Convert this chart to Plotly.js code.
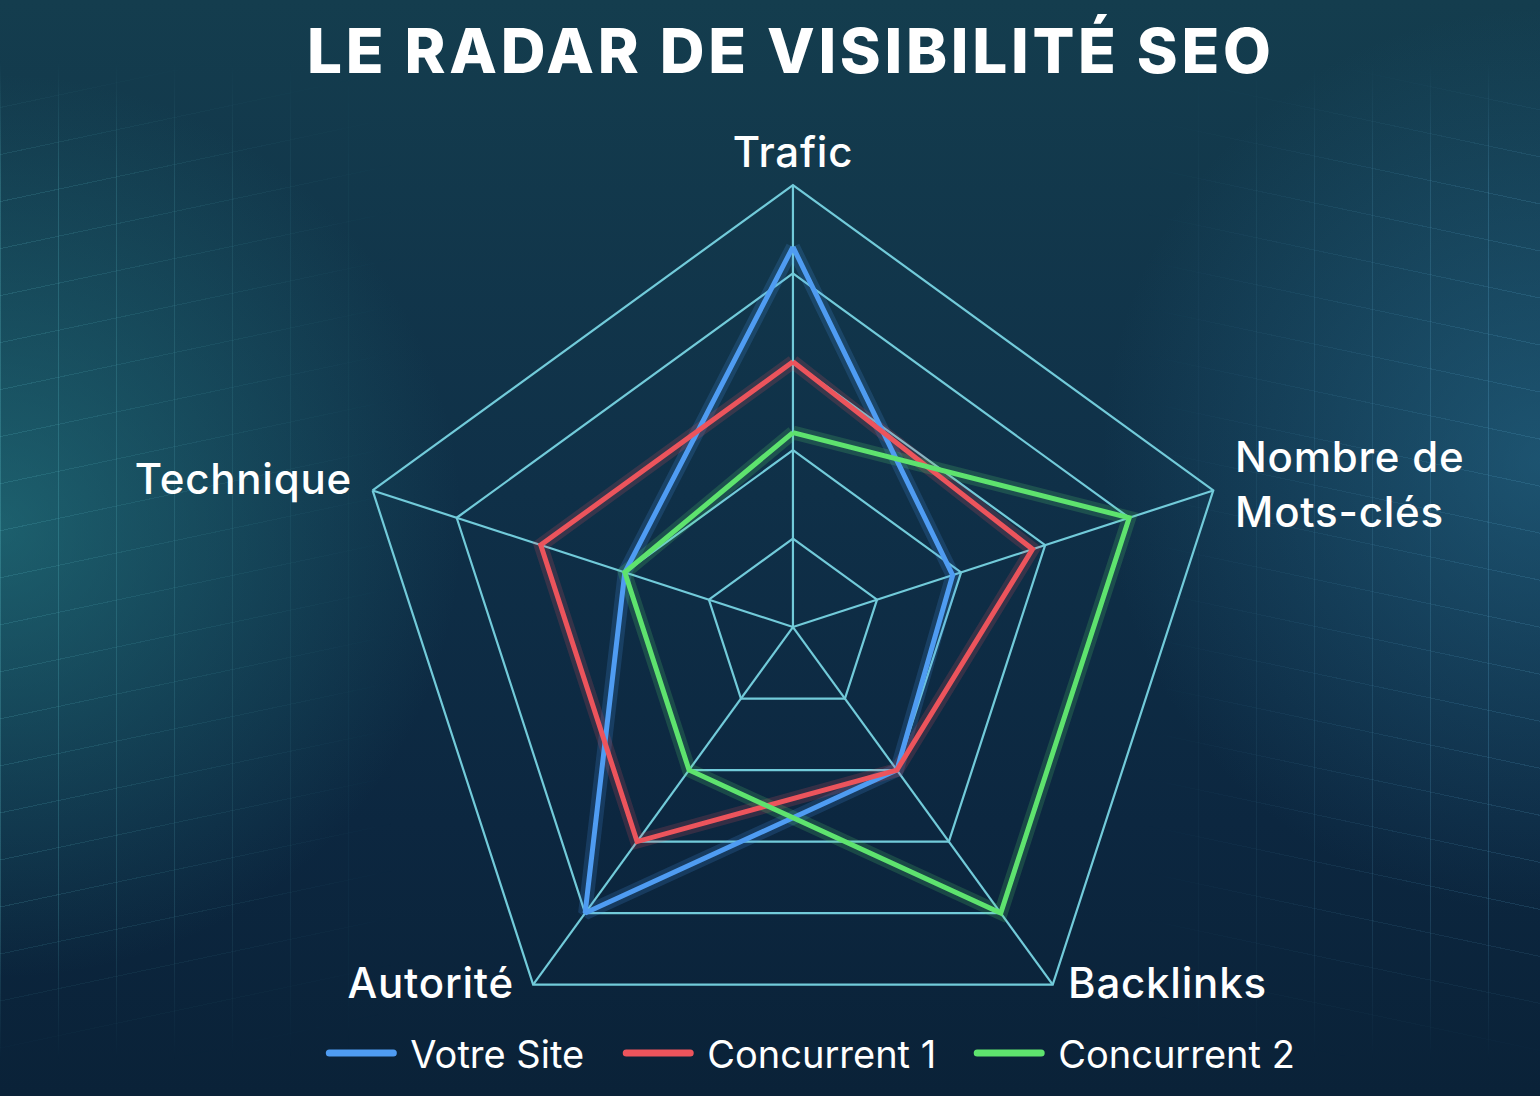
<!DOCTYPE html>
<html>
<head>
<meta charset="utf-8">
<script src="https://cdn.plot.ly/plotly-3.0.1.min.js"></script>
<style>
  html, body { margin: 0; padding: 0; width: 1540px; height: 1096px; overflow: hidden; }
  body {
    background:
      radial-gradient(ellipse 40% 55% at 0% 48%, rgba(40,135,140,0.55) 0%, rgba(20,80,100,0.0) 75%),
      radial-gradient(ellipse 38% 55% at 100% 42%, rgba(45,125,160,0.45) 0%, rgba(20,80,110,0.0) 75%),
      linear-gradient(180deg, #143d4e 0%, #0f3048 45%, #0c2740 75%, #0a2238 100%);
    position: relative;
  }
  .wrap { position: absolute; top: 60px; height: 1000px; width: 400px; pointer-events: none;
    -webkit-mask-image: linear-gradient(180deg, rgba(0,0,0,0) 0%, rgba(0,0,0,1) 12%, rgba(0,0,0,1) 85%, rgba(0,0,0,0) 100%);
    mask-image: linear-gradient(180deg, rgba(0,0,0,0) 0%, rgba(0,0,0,1) 12%, rgba(0,0,0,1) 85%, rgba(0,0,0,0) 100%); }
  .wrap.left { left: 0; }
  .wrap.right { right: 0; }
  .deco { position: absolute; left: 0; top: 0; width: 100%; height: 100%; opacity: 0.6; }
  .left .deco {
    background:
      repeating-linear-gradient(90deg, rgba(120,230,240,0.35) 0 1px, transparent 1px 58px),
      repeating-linear-gradient(168deg, rgba(120,230,240,0.22) 0 1px, transparent 1px 46px);
    -webkit-mask-image: linear-gradient(90deg, rgba(0,0,0,1) 0%, rgba(0,0,0,0.5) 55%, rgba(0,0,0,0) 100%);
    mask-image: linear-gradient(90deg, rgba(0,0,0,1) 0%, rgba(0,0,0,0.5) 55%, rgba(0,0,0,0) 100%);
  }
  .right .deco {
    background:
      repeating-linear-gradient(90deg, rgba(120,210,250,0.35) 0 1px, transparent 1px 58px),
      repeating-linear-gradient(12deg, rgba(120,210,250,0.22) 0 1px, transparent 1px 46px);
    -webkit-mask-image: linear-gradient(270deg, rgba(0,0,0,1) 0%, rgba(0,0,0,0.5) 55%, rgba(0,0,0,0) 100%);
    mask-image: linear-gradient(270deg, rgba(0,0,0,1) 0%, rgba(0,0,0,0.5) 55%, rgba(0,0,0,0) 100%);
  }
  #chart { position: absolute; left: 0; top: 0; width: 1540px; height: 1096px; }
  #chart .gtitle { letter-spacing: 3.7px; }
  #chart .polarlayer text { letter-spacing: 0.8px; }
</style>
</head>
<body>
<div class="wrap left"><div class="deco"></div></div>
<div class="wrap right"><div class="deco"></div></div>
<div id="chart"></div>
<script>
// ---- Data ----
const chartTitle = "LE RADAR DE VISIBILITÉ SEO";
const categories = ["Trafic", "Nombre de<br>Mots-clés", "Backlinks", "Autorité", "Technique"];
const seriesNames = ["Votre Site", "Concurrent 1", "Concurrent 2"];
const votreSite   = [86, 38, 40, 80, 40];
const concurrent1 = [60, 57, 40, 60, 60];
const concurrent2 = [44, 80, 80, 40, 40];
const radialTicks = [20, 40, 60, 80, 100];

// ---- Styles ----
const colors = ["#4f9cf2", "#ec545c", "#5ee36e"];
const gridColor = "#72cbda";
const fontFamily = "Inter, 'Open Sans', sans-serif";
const legendIds = ["legend", "legend2", "legend3"];
const legendX = [0.2106, 0.4034, 0.6313];

const seriesValues = [votreSite, concurrent1, concurrent2];
const closed = arr => arr.concat([arr[0]]);
const theta = closed(categories);

const traces = [];
seriesValues.forEach((vals, i) => {
  traces.push({
    type: "scatterpolar", mode: "lines",
    r: closed(vals), theta: theta,
    line: { color: colors[i], width: 14 },
    opacity: 0.18, showlegend: false, hoverinfo: "skip"
  });
});
seriesValues.forEach((vals, i) => {
  traces.push({
    type: "scatterpolar", mode: "lines",
    name: seriesNames[i],
    legend: legendIds[i],
    r: closed(vals), theta: theta,
    line: { color: colors[i], width: 5 }
  });
});

const layout = {
  width: 1540, height: 1096,
  margin: { l: 0, r: 0, t: 0, b: 0 },
  paper_bgcolor: "rgba(0,0,0,0)",
  plot_bgcolor: "rgba(0,0,0,0)",
  title: {
    text: chartTitle,
    x: 0.5135, xanchor: "center",
    y: 0.953, yanchor: "middle",
    font: { family: fontFamily, size: 62, weight: 800, color: "#ffffff" }
  },
  showlegend: true,
  polar: {
    domain: { x: [0.2279, 0.8019], y: [0.0246, 0.8312] },
    bgcolor: "rgba(0,0,0,0)",
    gridshape: "linear",
    radialaxis: {
      range: [0, 100],
      tickvals: radialTicks,
      showticklabels: false,
      ticks: "",
      showline: false,
      gridcolor: gridColor,
      gridwidth: 2.2
    },
    angularaxis: {
      rotation: 90,
      direction: "clockwise",
      showline: true,
      linecolor: gridColor,
      linewidth: 2.2,
      gridcolor: gridColor,
      gridwidth: 2.2,
      ticks: "",
      tickfont: { family: fontFamily, size: 42, weight: 500, color: "#ffffff" }
    }
  }
};
legendIds.forEach((id, i) => {
  layout[id] = {
    orientation: "h",
    x: legendX[i], xanchor: "left",
    y: 0.039, yanchor: "middle",
    font: { family: fontFamily, size: 38, color: "#ffffff" },
    bgcolor: "rgba(0,0,0,0)",
    itemwidth: 64
  };
});

function applyTweaks() {
  // place the axis labels beside their vertices, as in the reference
  const targets = {};
  targets[categories[1].replace("<br>", "")] = { side: "left", edge: 1235, cy: 484 };
  targets[categories[2]] = { side: "left", edge: 1068, cy: 983 };
  targets[categories[3]] = { side: "right", edge: 514, cy: 983 };
  targets[categories[4]] = { side: "right", edge: 352, cy: 478 };
  document.querySelectorAll("#chart .polarlayer text").forEach(el => {
    const t = targets[el.textContent];
    if (!t || el.dataset.moved) return;
    const bb = el.getBoundingClientRect();
    const dx = t.side === "left" ? t.edge - bb.left : t.edge - bb.right;
    const dy = t.cy - (bb.top + bb.height / 2);
    const prev = el.getAttribute("transform") || "";
    el.setAttribute("transform", prev + " translate(" + dx + "," + dy + ")");
    el.dataset.moved = "1";
  });
  // legends: no clipping
  document.querySelectorAll("#chart [clip-path]").forEach(el => {
    const cls = el.getAttribute("class") || "";
    if (cls.indexOf("scrollbox") >= 0 || cls.indexOf("legend") >= 0) el.removeAttribute("clip-path");
  });
  // legend texts: wider gap after the symbol
  document.querySelectorAll("#chart svg text").forEach(el => {
    if (seriesNames.indexOf(el.textContent) < 0 || el.dataset.moved) return;
    const prev = el.getAttribute("transform") || "";
    el.setAttribute("transform", prev + " translate(12,0)");
    el.dataset.moved = "1";
  });
  // legend symbols: thicker rounded strokes
  document.querySelectorAll("#chart svg path").forEach(p => {
    const r = p.getBoundingClientRect();
    if (r.top > 1020 && r.height < 3 && r.width > 30 && r.width < 90) {
      p.style.setProperty("stroke-width", "7px", "important");
      p.style.setProperty("stroke-linecap", "round");
    }
  });
}

const gd = document.getElementById("chart");
Plotly.newPlot(gd, traces, layout, { displayModeBar: false, staticPlot: true }).then(() => {
  applyTweaks();
  gd.on("plotly_afterplot", applyTweaks);
  requestAnimationFrame(applyTweaks);
  setTimeout(applyTweaks, 50);
  setTimeout(applyTweaks, 200);
  setTimeout(applyTweaks, 600);
});
</script>
</body>
</html>
